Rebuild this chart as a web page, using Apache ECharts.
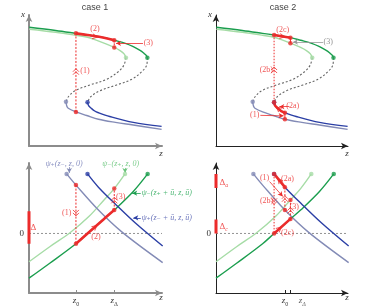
<!DOCTYPE html>
<html><head><meta charset="utf-8">
<script src="https://cdn.jsdelivr.net/npm/echarts@6/dist/echarts.min.js"></script>
<style>html,body{margin:0;padding:0;background:#fff}#c{width:378px;height:307px}</style>
</head><body><div id="c"></div>
<script>
// ---------- data (abstract units: z along x-axis 0..10) ----------
const z0Case1 = 3.53, zDCase1 = 6.41;
const z0Case2 = 5.22, zDCase2 = 5.64;
const zFold = 4.4;

// top panels: x versus z (same S-curves in both cases)
const topDarkUpper  = [[0.02,9.06],[2.0,8.82],[3.53,8.60],[4.4,8.47],[5.64,8.27],[6.41,8.07],[7.3,7.82],[7.84,7.58],[8.35,7.3],[8.65,7.07],[8.83,6.9],[8.90,6.74]];
const topDarkMiddle = [[8.90,6.74],[8.85,6.18],[8.47,5.67],[7.72,5.09],[6.59,4.66],[5.34,4.22],[4.64,3.76],[4.4,3.34]];
const topDarkLower  = [[4.4,3.34],[4.48,3.08],[4.68,2.88],[4.94,2.67],[5.22,2.54],[6.07,2.25],[7.84,1.80],[9.97,1.50]];
const topLightUpper = [[0.02,8.91],[2.0,8.68],[3.53,8.45],[4.4,8.30],[5.0,8.1],[5.64,7.85],[6.41,7.52],[6.85,7.28],[7.15,7.03],[7.29,6.74]];
const topLightMiddle= [[7.29,6.74],[7.14,6.18],[6.71,5.67],[5.84,5.09],[4.59,4.66],[3.46,4.22],[2.96,3.76],[2.78,3.38]];
const topLightLower = [[2.78,3.38],[2.84,3.05],[2.95,2.88],[3.53,2.60],[4.34,2.33],[5.22,2.04],[6.5,1.8],[7.84,1.6],[9.97,1.27]];

// bottom panels: psi versus z
const botDarkGreen  = [[0.0,-3.44],[1.56,-2.29],[3.53,-0.79],[4.4,0.0],[5.64,1.12],[6.41,1.80],[7.84,3.23],[8.92,4.58]];
const botLightGreen = [[0.0,-2.18],[1.56,-1.02],[3.08,0.05],[4.5,1.3],[5.64,2.58],[6.41,3.45],[7.22,4.58]];
const botBlueGray   = [[2.83,4.58],[3.53,3.72],[5.22,1.80],[7.0,0.1],[10.05,-2.24]];
const botDarkBlue   = [[4.4,4.58],[5.22,3.56],[6.5,2.25],[8.0,0.8],[10.05,-0.97]];

// gap bars on the psi axis
const deltaCase1  = [-0.79, 1.70];
const deltaACase2 = [3.49, 4.58];
const deltaCCase2 = [0.0, 1.07];

// ---------- styles ----------
const RED='#ec2b2b', DG='#1b9e4e', LG='#a6dca6', DB='#2b3fa5', BG='#838bb6', DASH='#666';
const SERIF="'Liberation Serif','DejaVu Serif',serif";
const CHEV2='path://M0,5L5,0L10,5M0,10L5,5L10,10';
const CHEV1='path://M0,0L8,4L0,8';

const series=[];
const near=(a,b)=>Math.abs(a-b)<1e-6;
const between=(arr,a,b)=>arr.filter(p=>p[0]>=a-1e-6&&p[0]<=b+1e-6);
const at=(arr,z)=>arr.find(p=>near(p[0],z));

function line(gi,data,color,width,type,smooth){
  series.push({type:'line',xAxisIndex:gi,yAxisIndex:gi,data,symbol:'none',smooth:smooth===undefined?0.35:smooth,
    lineStyle:{color,width,type:type||'solid'},silent:true,animation:false,clip:false,z:2});
}
function dots(gi,data,color,size){
  series.push({type:'scatter',xAxisIndex:gi,yAxisIndex:gi,data,symbol:'circle',symbolSize:size||4.5,
    itemStyle:{color},silent:true,animation:false,clip:false,z:5});
}
function texts(gi,items,color,size,pos,italic){
  series.push({type:'scatter',xAxisIndex:gi,yAxisIndex:gi,symbolSize:0,silent:true,animation:false,clip:false,z:6,
    data:items.map(t=>({value:[t[0],t[1]],label:{formatter:t[2]}})),
    label:{show:true,position:pos||'inside',distance:0,color,fontSize:size,fontFamily:SERIF,fontStyle:italic?'italic':'normal'}});
}
function chev(gi,pt,rot,path,size){
  series.push({type:'scatter',xAxisIndex:gi,yAxisIndex:gi,data:[pt],symbol:path,symbolSize:size,symbolRotate:rot,
    itemStyle:{color:'rgba(0,0,0,0)',borderColor:RED,borderWidth:1},silent:true,animation:false,clip:false,z:7});
}
function arrows(gi,segs,color){
  series.push({type:'line',xAxisIndex:gi,yAxisIndex:gi,data:[segs[0][0]],symbol:'none',lineStyle:{width:0},
    silent:true,animation:false,clip:false,
    markLine:{silent:true,animation:false,symbol:['none','arrow'],symbolSize:[4,5],label:{show:false},
      lineStyle:{color,width:0.8,type:'solid'},data:segs.map(s=>[{coord:s[0]},{coord:s[1]}])}});
}

// ---- top panels base curves ----
[0,1].forEach(g=>{
  line(g,topLightUpper,LG,1.4); line(g,topLightMiddle,DASH,1.1,[2,2]); line(g,topLightLower,BG,1.4);
  line(g,topDarkUpper,DG,1.4);  line(g,topDarkMiddle,DASH,1.1,[2,2]);  line(g,topDarkLower,DB,1.4);
  dots(g,[topLightUpper[topLightUpper.length-1]],LG); dots(g,[topDarkUpper[topDarkUpper.length-1]],DG);
  dots(g,[topLightLower[0]],BG); dots(g,[topDarkLower[0]],DB);
});
// ---- bottom panels base curves ----
[2,3].forEach(g=>{
  line(g,[[0,0],[10,0]],'#777',0.8,[2,2],false);
  line(g,botLightGreen,LG,1.4); line(g,botBlueGray,BG,1.4);
  line(g,botDarkGreen,DG,1.4);  line(g,botDarkBlue,DB,1.4);
  dots(g,[botLightGreen[botLightGreen.length-1]],LG); dots(g,[botDarkGreen[botDarkGreen.length-1]],DG);
  dots(g,[botBlueGray[0]],BG); dots(g,[botDarkBlue[0]],DB);
});

// ---- case 1 top ----
{
  const a=at(topLightLower,z0Case1), b=at(topDarkUpper,z0Case1), c=at(topDarkUpper,zDCase1), d=at(topLightUpper,zDCase1);
  line(0,[a,b],RED,1,[2,1.5],false);
  line(0,between(topDarkUpper,z0Case1,zDCase1),RED,2.6);
  line(0,[c,d],RED,1,[2,1],false);
  dots(0,[a,b,c,d],RED,4.5);
  chev(0,[z0Case1,5.67],0,CHEV2,[6,6]);
  chev(0,[4.96,8.34],-10,CHEV1,[5,5]);
  texts(0,[[4.21,5.70,'(1)'],[4.96,8.91,'(2)'],[8.97,7.84,'(3)']],RED,8);
  arrows(0,[[[8.57,7.84],[6.54,7.84]]],RED);
}
// ---- case 2 top ----
{
  const a=at(topLightLower,z0Case2), b=at(topDarkLower,z0Case2), f=topDarkLower[0], u=at(topDarkUpper,zFold),
        c=at(topDarkUpper,zDCase2), d=at(topLightUpper,zDCase2);
  line(1,[a,b],RED,1,'solid',false);
  line(1,between(topDarkLower,zFold,z0Case2),RED,2.6);
  line(1,[f,u],RED,1,[1.5,1.5],false);
  line(1,between(topDarkUpper,zFold,zDCase2),RED,2.6);
  line(1,[c,d],RED,1,'solid',false);
  dots(1,[a,b,f,u,c,d],RED,4.5);
  chev(1,[zFold,5.8],0,CHEV2,[6,6]);
  chev(1,[5.02,8.36],-9,CHEV1,[5,5]);
  chev(1,[4.72,2.86],140,CHEV1,[5,5]);
  texts(1,[[5.06,8.85,'(2c)'],[3.81,5.80,'(2b)'],[5.81,3.05,'(2a)'],[2.93,2.37,'(1)']],RED,8);
  texts(1,[[8.5,7.96,'(3)']],'#777',8);
  arrows(1,[[[8.12,7.94],[5.83,7.94]]],'#999');
  arrows(1,[[[5.56,3.02],[4.80,3.00]],[[3.36,2.34],[5.12,2.30]]],RED);
}
// ---- case 1 bottom ----
{
  const a=at(botBlueGray,z0Case1), b=at(botDarkGreen,z0Case1), c=at(botDarkGreen,zDCase1), d=at(botLightGreen,zDCase1);
  line(2,[[0,deltaCase1[0]],[0,deltaCase1[1]]],RED,3,'solid',false);
  line(2,[a,b],RED,1,[2,1.5],false);
  line(2,between(botDarkGreen,z0Case1,zDCase1),RED,2.6);
  line(2,[c,d],RED,1,[2,1.5],false);
  dots(2,[a,b,c,d],RED,4.5);
  chev(2,[z0Case1,1.58],180,CHEV2,[6,6]);
  chev(2,[zDCase1,2.55],0,CHEV2,[6,6]);
  chev(2,[4.96,0.50],40,CHEV1,[5,5]);
  texts(2,[[2.83,1.58,'(1)'],[5.04,-0.25,'(2)'],[6.89,2.85,'(3)']],RED,8);
  texts(2,[[0.33,0.43,'Δ']],RED,9);
  texts(2,[[2.64,5.34,'ψ₊(z₋, z, 0)']],'#6a73b2',8,'inside',true);
  texts(2,[[6.90,5.34,'ψ₋(z₊, z, 0)']],'#5cc070',8,'inside',true);
  texts(2,[[8.47,3.12,'ψ₋(z₊ + ū, z, ū)']],'#22a552',8,'right',true);
  texts(2,[[8.47,1.20,'ψ₊(z₋ + ū, z, ū)']],'#4652aa',8,'right',true);
  arrows(2,[[[3.03,5.11],[3.03,4.66]]],BG);
  arrows(2,[[[7.22,5.04],[7.22,4.66]]],'#6cc47c');
  arrows(2,[[[8.40,3.10],[7.76,3.10]]],DG);
  arrows(2,[[[8.40,1.20],[7.84,1.20]]],DB);
}
// ---- case 2 bottom ----
{
  const a=at(botBlueGray,z0Case2), b=at(botDarkBlue,z0Case2), f=botDarkBlue[0], g0=at(botDarkGreen,zFold),
        c=at(botDarkGreen,zDCase2), d=at(botLightGreen,zDCase2);
  line(3,[[0,deltaACase2[0]],[0,deltaACase2[1]]],RED,3,'solid',false);
  line(3,[[0,deltaCCase2[0]],[0,deltaCCase2[1]]],RED,3,'solid',false);
  line(3,[a,b],RED,1,[2,1.5],false);
  line(3,between(botDarkBlue,zFold,z0Case2),RED,2.6);
  line(3,[f,g0],RED,1,[1.5,1.5],false);
  line(3,between(botDarkGreen,zFold,zDCase2),RED,2.6);
  line(3,[c,d],RED,1,[2,1.5],false);
  dots(3,[a,b,f,g0,c,d],RED,4.5);
  chev(3,[z0Case2,2.67],0,CHEV2,[6,6]);
  chev(3,[zFold,2.47],180,CHEV2,[6,6]);
  chev(3,[zDCase2,1.76],0,CHEV2,[6,6]);
  chev(3,[4.81,4.07],128,CHEV1,[5,5]);
  chev(3,[4.80,0.36],42,CHEV1,[5,5]);
  texts(3,[[3.68,4.25,'(1)'],[5.41,4.17,'(2a)'],[3.83,2.47,'(2b)'],[5.41,0.05,'(2c)'],[5.92,2.08,'(3)']],RED,8);
  texts(3,[[0.59,3.92,'{d|Δ}{s|a}'],[0.59,0.56,'{d|Δ}{s|c}']],RED,9);
  arrows(3,[[[4.06,3.99],[5.06,2.85]]],RED);
  texts(3,[[6.54,-5.19,'{i|z}{s|Δ}']],'#333',9,'inside',true);
  arrows(3,[[[6.17,-4.96],[5.74,-4.64]]],'#444');
}
// rich styles for Δa/Δc and zΔ annotations
series.forEach(s=>{ if(s.type==='scatter'&&s.label){ s.label.rich={
  d:{fontSize:9,color:RED,fontFamily:SERIF},
  s:{fontSize:6,color:s.label.color,fontFamily:SERIF,fontStyle:'italic',padding:[6,0,0,0]},
  i:{fontSize:9,color:s.label.color,fontFamily:SERIF,fontStyle:'italic'}}; }});

// ---------- axes ----------
const zTickNames = {};
function xAxis(gi,gray,ticks,labels){
  const col=gray?'#8c8c8c':'#222';
  return {gridIndex:gi,type:'value',min:0,max:10,
    axisLine:{show:true,onZero:false,symbol:['none','arrow'],symbolSize:[5,7],lineStyle:{color:col,width:gray?2:1}},
    axisTick:ticks?{show:true,inside:true,length:3,customValues:ticks,lineStyle:{color:col}}:{show:false},
    axisLabel:labels?{show:true,customValues:labels.map(l=>l[0]),margin:2,
      formatter:v=>{const l=labels.find(q=>near(q[0],v));return '{i|z}{s|'+(l?l[1]:'')+'}';},
      rich:{i:{fontSize:9,fontFamily:SERIF,fontStyle:'italic',color:'#333'},s:{fontSize:6,fontFamily:SERIF,color:'#333',padding:[6,0,0,0]}}}:{show:false},
    splitLine:{show:false},
    name:'z',nameLocation:'end',nameGap:-1,
    nameTextStyle:{fontFamily:SERIF,fontStyle:'italic',fontSize:9,color:'#333',align:'center',verticalAlign:'top',padding:[gi<2?3:0,0,0,0]}};
}
function yAxis(gi,gray,min,max,name,zeroLabel){
  const col=gray?'#8c8c8c':'#222';
  return {gridIndex:gi,type:'value',min,max,
    axisLine:{show:true,onZero:false,symbol:['none','arrow'],symbolSize:[5,7],lineStyle:{color:col,width:gray?2:1}},
    axisTick:{show:false},
    axisLabel:zeroLabel?{show:true,customValues:[0],margin:5,formatter:()=> '0',fontFamily:SERIF,fontSize:9,color:'#333'}:{show:false},
    splitLine:{show:false},
    name:name||'',nameLocation:'end',nameGap:0,
    nameTextStyle:{fontFamily:SERIF,fontStyle:'italic',fontSize:9,color:'#333',align:'right',verticalAlign:'middle',padding:[0,4,0,0]}};
}

const chart=echarts.init(document.getElementById('c'),null,{renderer:'canvas'});
chart.setOption({
  animation:false,
  grid:[
    {left:29,top:15,width:133,height:131},
    {left:216,top:15,width:132,height:131},
    {left:29,top:163,width:133,height:131},
    {left:216,top:163,width:132,height:131}
  ],
  xAxis:[
    xAxis(0,true), xAxis(1,false),
    xAxis(2,true,[z0Case1,zDCase1],[[z0Case1,'0'],[zDCase1,'Δ']]),
    xAxis(3,false,[z0Case2,zDCase2],[[z0Case2,'0']])
  ],
  yAxis:[
    yAxis(0,true,0,10,'x'), yAxis(1,false,0,10,'x'),
    yAxis(2,true,-4.58,5.42,'',true), yAxis(3,false,-4.58,5.42,'',true)
  ],
  graphic:[
    {type:'text',x:95,y:8,style:{text:'case 1',textAlign:'center',textVerticalAlign:'middle',fontSize:9,fontFamily:"'Liberation Sans',Arial,sans-serif",fill:'#444'}},
    {type:'text',x:283,y:8,style:{text:'case 2',textAlign:'center',textVerticalAlign:'middle',fontSize:9,fontFamily:"'Liberation Sans',Arial,sans-serif",fill:'#444'}}
  ],
  series
});
</script></body></html>
